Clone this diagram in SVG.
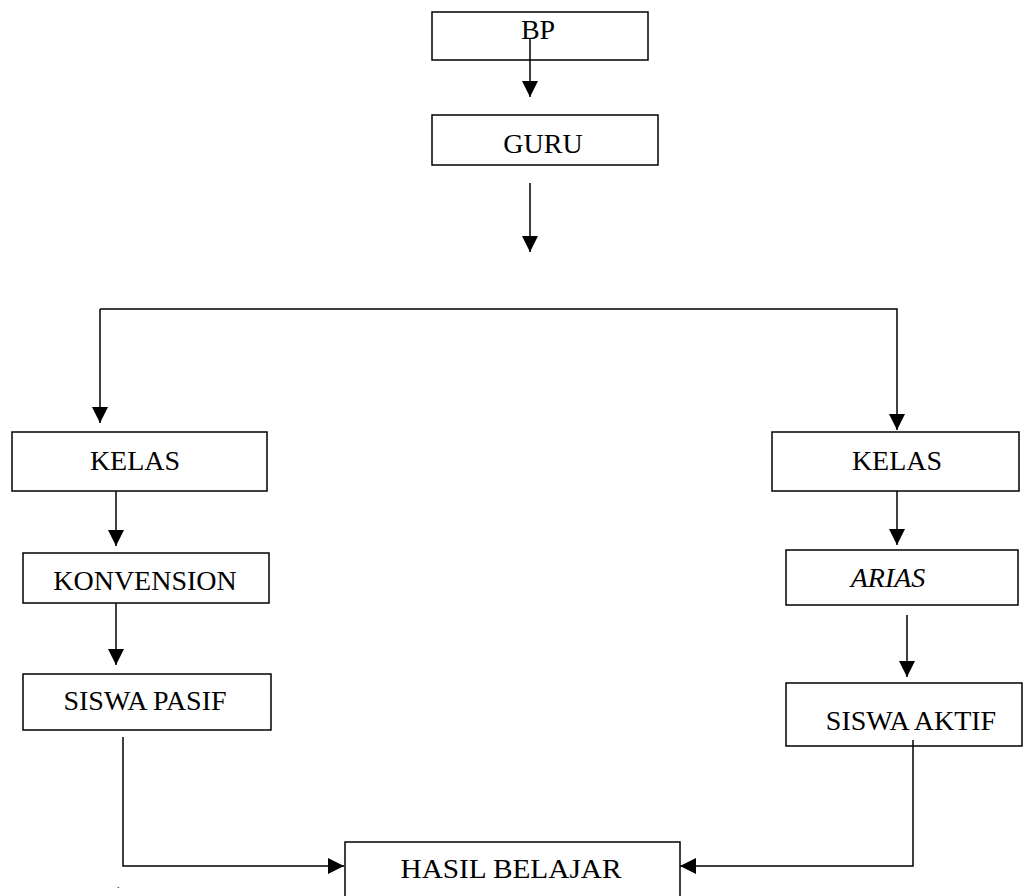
<svg xmlns="http://www.w3.org/2000/svg" width="1024" height="896" viewBox="0 0 1024 896">
<defs>
<marker id="arr" markerUnits="userSpaceOnUse" markerWidth="16" markerHeight="16" refX="16" refY="8" orient="auto">
<path d="M0,0 L16,8 L0,16 z" fill="#000"/>
</marker>
<style>
.box{fill:#fff;stroke:#000;stroke-width:1.5}
.t{font-family:"Liberation Serif","Times New Roman",serif;font-size:28px;fill:#000;text-anchor:middle}
.c{fill:none;stroke:#000;stroke-width:1.5;marker-end:url(#arr)}
</style>
</defs>
<rect width="1024" height="896" fill="#fff"/>
<g id="bp"><rect class="box" x="432" y="12" width="216" height="48"/><text class="t" x="538" y="39" font-size="30">BP</text></g>
<g id="guru"><rect class="box" x="432" y="115" width="226" height="50"/><text class="t" x="543" y="153">GURU</text></g>
<g id="kelas1"><rect class="box" x="12" y="432" width="255" height="59"/><text class="t" x="135" y="470">KELAS</text></g>
<g id="konvension"><rect class="box" x="23" y="553" width="246" height="50"/><text class="t" x="145" y="590">KONVENSION</text></g>
<g id="pasif"><rect class="box" x="23" y="674" width="248" height="56"/><text class="t" x="145" y="710">SISWA PASIF</text></g>
<g id="kelas2"><rect class="box" x="772" y="432" width="247" height="59"/><text class="t" x="897" y="470">KELAS</text></g>
<g id="arias"><rect class="box" x="786" y="550" width="232" height="55"/><text class="t" x="888" y="587" font-style="italic">ARIAS</text></g>
<g id="aktif"><rect class="box" x="786" y="683" width="236" height="63"/><text class="t" x="911" y="730">SISWA AKTIF</text></g>
<g id="hasil"><rect class="box" x="345" y="842" width="335" height="70"/><text class="t" x="511" y="878" textLength="221" lengthAdjust="spacingAndGlyphs">HASIL BELAJAR</text></g>
<g id="connectors">
<path class="c" d="M530,38 V97"/>
<path class="c" d="M530,183 V252"/>
<path class="c" d="M100,309 H897 V430"/>
<path class="c" d="M100,309 V423"/>
<path class="c" d="M116,491 V546"/>
<path class="c" d="M116,603 V665"/>
<path class="c" d="M897,491 V545"/>
<path class="c" d="M907,615 V677"/>
<path class="c" d="M123,737 V866 H344"/>
<path class="c" d="M913,740 V866 H680"/>
</g>
<text x="117" y="888" font-family="Liberation Serif, serif" font-size="10" fill="#000">.</text>
</svg>
